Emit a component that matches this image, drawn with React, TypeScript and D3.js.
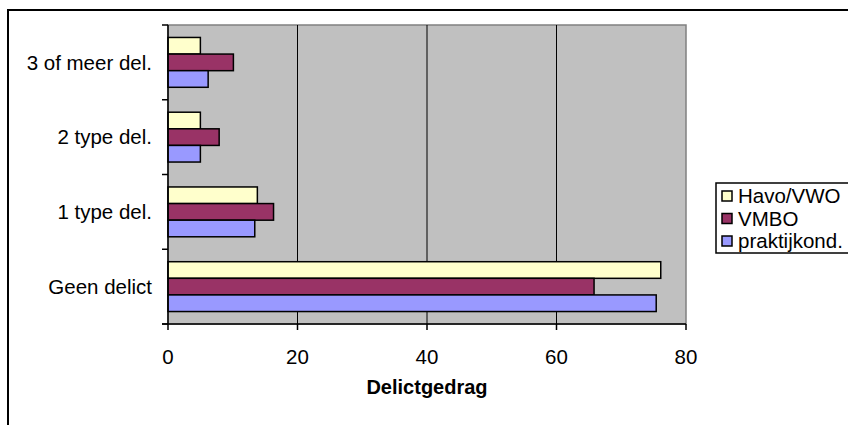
import * as d3 from "d3";
import { useEffect, useRef } from "react";

// categorieën van boven naar beneden
const categories = ["3 of meer del.", "2 type del.", "1 type del.", "Geen delict"];
const seriesNames = ["Havo/VWO", "VMBO", "praktijkond."];
const seriesColors = ["#FFFFCC", "#993366", "#9999FF"];

// waarden per serie, in de volgorde van categories
const havoVwo = [5, 5, 13.8, 76.1];
const vmbo = [10.1, 7.9, 16.3, 65.8];
const praktijk = [6.2, 5, 13.4, 75.4];

const xTicks = [0, 20, 40, 60, 80];
const xTitle = "Delictgedrag";

const W = 848;
const H = 425;

export default function App() {
  const svgRef = useRef<SVGSVGElement | null>(null);

  useEffect(() => {
    if (!svgRef.current) return;
    const svg = d3.select(svgRef.current);
    svg.selectAll("*").remove();

    const plot = { left: 168, top: 25, right: 686, bottom: 324 };
    const font = "'Liberation Sans', Arial, sans-serif";

    // buitenkader van de grafiek
    svg
      .append("rect")
      .attr("x", 8)
      .attr("y", 10)
      .attr("width", 900)
      .attr("height", 600)
      .attr("fill", "#fff")
      .attr("stroke", "#000")
      .attr("stroke-width", 2);

    const x = d3.scaleLinear().domain([0, 80]).range([plot.left, plot.right]);
    const y = d3
      .scaleBand()
      .domain(categories)
      .range([plot.top, plot.bottom])
      .paddingInner(1.5 / 4.5)
      .paddingOuter(0.75 / 4.5);
    const band = (plot.bottom - plot.top) / categories.length;
    const sub = d3
      .scaleBand()
      .domain(seriesNames)
      .range([0, y.bandwidth()]);

    // plotgebied
    svg
      .append("rect")
      .attr("x", plot.left)
      .attr("y", plot.top)
      .attr("width", plot.right - plot.left)
      .attr("height", plot.bottom - plot.top)
      .attr("fill", "#C0C0C0")
      .attr("stroke", "#808080")
      .attr("stroke-width", 1.5);

    // rasterlijnen
    svg
      .append("g")
      .selectAll("line")
      .data(xTicks.slice(1, -1))
      .enter()
      .append("line")
      .attr("x1", (d) => x(d))
      .attr("x2", (d) => x(d))
      .attr("y1", plot.top)
      .attr("y2", plot.bottom)
      .attr("stroke", "#000")
      .attr("stroke-width", 1);

    // balken
    const series = [havoVwo, vmbo, praktijk];
    const bars = categories.flatMap((c, ci) =>
      seriesNames.map((s, si) => ({ c, s, v: series[si][ci], color: seriesColors[si] }))
    );
    svg
      .append("g")
      .selectAll("rect")
      .data(bars)
      .enter()
      .append("rect")
      .attr("x", x(0))
      .attr("y", (d) => y(d.c)! + sub(d.s)!)
      .attr("width", (d) => x(d.v) - x(0))
      .attr("height", sub.bandwidth())
      .attr("fill", (d) => d.color)
      .attr("stroke", "#000")
      .attr("stroke-width", 1.5);

    // y-as
    const yAxis = svg.append("g");
    yAxis
      .append("line")
      .attr("x1", plot.left)
      .attr("x2", plot.left)
      .attr("y1", plot.top)
      .attr("y2", plot.bottom)
      .attr("stroke", "#000")
      .attr("stroke-width", 1.5);
    yAxis
      .selectAll(".tick")
      .data(d3.range(categories.length + 1))
      .enter()
      .append("line")
      .attr("x1", plot.left - 6)
      .attr("x2", plot.left)
      .attr("y1", (i) => plot.top + i * band)
      .attr("y2", (i) => plot.top + i * band)
      .attr("stroke", "#000")
      .attr("stroke-width", 1.5);
    yAxis
      .selectAll("text")
      .data(categories)
      .enter()
      .append("text")
      .attr("x", 152)
      .attr("y", (d) => y(d)! + y.bandwidth() / 2)
      .attr("dy", "0.35em")
      .attr("text-anchor", "end")
      .attr("font-family", font)
      .attr("font-size", 20.5)
      .text((d) => d);

    // x-as
    const xAxis = svg.append("g");
    xAxis
      .append("line")
      .attr("x1", plot.left - 6)
      .attr("x2", plot.right)
      .attr("y1", plot.bottom)
      .attr("y2", plot.bottom)
      .attr("stroke", "#000")
      .attr("stroke-width", 1.5);
    xAxis
      .selectAll(".tick")
      .data(xTicks)
      .enter()
      .append("line")
      .attr("x1", (d) => x(d))
      .attr("x2", (d) => x(d))
      .attr("y1", plot.bottom)
      .attr("y2", plot.bottom + 6)
      .attr("stroke", "#000")
      .attr("stroke-width", 1.5);
    xAxis
      .selectAll("text")
      .data(xTicks)
      .enter()
      .append("text")
      .attr("x", (d) => x(d))
      .attr("y", 364)
      .attr("text-anchor", "middle")
      .attr("font-family", font)
      .attr("font-size", 20.5)
      .text((d) => d);

    svg
      .append("text")
      .attr("x", (plot.left + plot.right) / 2)
      .attr("y", 394)
      .attr("text-anchor", "middle")
      .attr("font-family", font)
      .attr("font-size", 20)
      .attr("font-weight", "bold")
      .text(xTitle);

    // legenda
    const legend = svg.append("g").attr("transform", "translate(716,183)");
    legend
      .append("rect")
      .attr("width", 150)
      .attr("height", 70)
      .attr("fill", "#fff")
      .attr("stroke", "#000")
      .attr("stroke-width", 1.5);
    const items = legend
      .selectAll(".item")
      .data(seriesNames)
      .enter()
      .append("g")
      .attr("transform", (_, i) => `translate(0,${13 + i * 22.5})`);
    items
      .append("rect")
      .attr("x", 6)
      .attr("y", -5)
      .attr("width", 10)
      .attr("height", 10)
      .attr("fill", (_, i) => seriesColors[i])
      .attr("stroke", "#000")
      .attr("stroke-width", 1.5);
    items
      .append("text")
      .attr("x", 22)
      .attr("dy", "0.35em")
      .attr("font-family", font)
      .attr("font-size", 20.5)
      .text((d) => d);
  }, []);

  return (
    <svg
      ref={svgRef}
      width={W}
      height={H}
      style={{ position: "absolute", left: 0, top: 0, display: "block" }}
    />
  );
}
